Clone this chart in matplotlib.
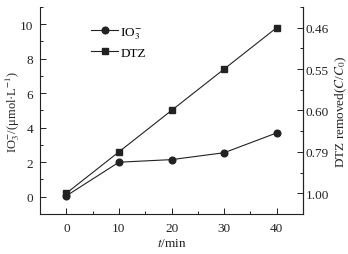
import matplotlib
matplotlib.use("Agg")
import matplotlib.pyplot as plt
from matplotlib.ticker import MultipleLocator, FixedLocator

plt.rcParams['font.family'] = ['Liberation Serif', 'DejaVu Serif']
plt.rcParams['mathtext.fontset'] = 'stix'

# data
t = [0, 10, 20, 30, 40]
io3 = [0.05, 2.0, 2.15, 2.55, 3.7]
dtz = [0.2, 2.6, 5.0, 7.4, 9.8]
dtz_labels = ['1.00', '0.79', '0.60', '0.55', '0.46']

INK = '#222222'
FS = 9.5

fig = plt.figure(figsize=(3.48, 2.55), dpi=100)
ax = fig.add_axes([0.115, 0.157, 0.756, 0.812])

ax.plot(t, io3, color=INK, linewidth=0.8, marker='o', markersize=4.8, label='IO$_3^{-}$')
ax.plot(t, dtz, color=INK, linewidth=0.8, marker='s', markersize=4.4, label='DTZ')

ax.set_xlim(-5, 45)
ax.set_ylim(-1, 11)
ax.xaxis.set_major_locator(MultipleLocator(10))
ax.xaxis.set_minor_locator(MultipleLocator(5))
ax.yaxis.set_major_locator(MultipleLocator(2))
ax.yaxis.set_minor_locator(MultipleLocator(1))

ax.spines['top'].set_visible(False)
for s in ['left', 'bottom', 'right']:
    ax.spines[s].set_color(INK)
    ax.spines[s].set_linewidth(0.8)

ax.tick_params(which='both', direction='in', colors=INK, labelsize=FS, width=0.7)
ax.tick_params(which='major', length=4)
ax.tick_params(which='minor', length=2.5)
ax.tick_params(axis='x', pad=6)
ax.tick_params(axis='y', pad=5)

ax.set_xlabel('$t$/min', fontsize=FS, color=INK, labelpad=2)
ax.set_ylabel('IO$_3^{-}$/(μmol·L$^{-1}$)', fontsize=9, color=INK)
ax.yaxis.set_label_coords(-0.07, 0.5)

# right axis shares the same scale, labelled with C/C0 values
ax2 = ax.twinx()
ax2.set_ylim(ax.get_ylim())
ax2.yaxis.set_major_locator(FixedLocator(dtz))
ax2.yaxis.set_minor_locator(FixedLocator([-1.0, 1.4, 3.8, 6.2, 8.6, 11.0]))
ax2.set_yticklabels(dtz_labels)
for s in ['left', 'bottom', 'top']:
    ax2.spines[s].set_visible(False)
ax2.spines['right'].set_color(INK)
ax2.spines['right'].set_linewidth(0.8)
ax2.tick_params(which='both', direction='in', colors=INK, labelsize=FS, width=0.7, pad=2)
ax2.tick_params(which='major', length=4)
ax2.tick_params(which='minor', length=2.5)
ax2.set_ylabel('DTZ removed($C$/$C_0$)', fontsize=FS, color=INK, labelpad=3)

ax.legend(loc='upper left', bbox_to_anchor=(0.15, 0.97), frameon=False,
          fontsize=FS, handlelength=2.0, handletextpad=0.2, labelspacing=0.45)

fig.savefig('out.png', dpi=100)
